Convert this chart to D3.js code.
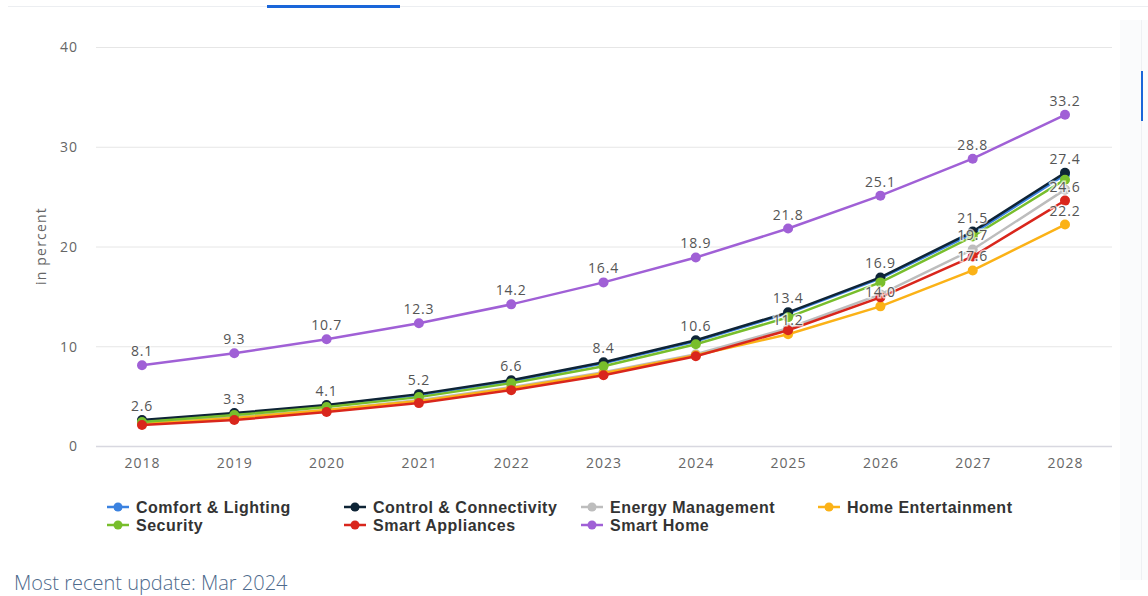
<!DOCTYPE html>
<html>
<head>
<meta charset="utf-8">
<script src="https://cdn.jsdelivr.net/npm/d3@7"></script>
<style>
  body { margin: 0; background: #fff; overflow: hidden; }
  svg { display: block; }
</style>
</head>
<body>
<svg id="chart" width="1148" height="596"></svg>
<script>
// chart values
var years = [2018, 2019, 2020, 2021, 2022, 2023, 2024, 2025, 2026, 2027, 2028];
var seriesNames = ["Comfort & Lighting", "Control & Connectivity", "Energy Management",
  "Home Entertainment", "Security", "Smart Appliances", "Smart Home"];
var seriesColors = ["#3b82e0", "#0e2436", "#bdbdbd", "#fbb217", "#78be2c", "#d9261c", "#a060d6"];

var comfortLighting = [2.5, 3.2, 4.0, 5.1, 6.5, 8.3, 10.5, 13.3, 16.8, 21.3, 27.2];
var controlConnectivity = [2.6, 3.3, 4.1, 5.2, 6.6, 8.4, 10.6, 13.4, 16.9, 21.5, 27.4];
var energyManagement = [2.3, 2.9, 3.6, 4.6, 5.9, 7.4, 9.2, 11.8, 15.2, 19.7, 25.7];
var homeEntertainment = [2.2, 2.8, 3.6, 4.5, 5.8, 7.3, 9.1, 11.2, 14.0, 17.6, 22.2];
var security = [2.4, 3.1, 3.9, 4.9, 6.3, 8.0, 10.2, 12.9, 16.4, 21.0, 26.7];
var smartAppliances = [2.1, 2.6, 3.4, 4.3, 5.6, 7.1, 9.0, 11.6, 14.9, 19.0, 24.6];
var smartHome = [8.1, 9.3, 10.7, 12.3, 14.2, 16.4, 18.9, 21.8, 25.1, 28.8, 33.2];

var yTicks = [0, 10, 20, 30, 40];

// which data labels are visible (the rest are hidden by overlap in the original)
var labelYears = [
  [],
  years,
  [2027],
  [2025, 2026, 2027, 2028],
  [],
  [2028],
  years
];

var allValues = [comfortLighting, controlConnectivity, energyManagement,
  homeEntertainment, security, smartAppliances, smartHome];

var series = seriesNames.map(function(name, i) {
  return {
    name: name,
    color: seriesColors[i],
    points: years.map(function(yr, j) { return {year: yr, value: allValues[i][j]}; }),
    labels: labelYears[i]
  };
});

var svg = d3.select("#chart");
var font = "'Open Sans', 'DejaVu Sans', sans-serif";

// page chrome: top rule with the active tab underline, side strip
svg.append("rect").attr("x", 8).attr("y", 6).attr("width", 1140).attr("height", 1).attr("fill", "#eceef1");
svg.append("rect").attr("x", 267).attr("y", 5).attr("width", 133).attr("height", 3).attr("fill", "#1a66d9");
svg.append("rect").attr("x", 1120).attr("y", 20).attr("width", 28).attr("height", 560).attr("fill", "#fafbfc");
svg.append("rect").attr("x", 1141).attr("y", 20).attr("width", 1).attr("height", 560).attr("fill", "#eef0f3");
svg.append("rect").attr("x", 1141).attr("y", 71).attr("width", 2).attr("height", 50).attr("fill", "#1a66d9");

var x = d3.scalePoint()
  .domain(years)
  .range([142, 1065]);

var y = d3.scaleLinear()
  .domain([0, 40])
  .range([446, 47]);

// grid
var grid = svg.append("g")
  .attr("transform", "translate(96,0)")
  .call(d3.axisLeft(y).tickValues(yTicks).tickSize(-1016).tickFormat(""));
grid.select(".domain").remove();
grid.selectAll("line").attr("stroke", "#e6e6e6");
grid.selectAll("line").filter(function(d) { return d === 0; }).attr("stroke", "#d8d8e0").attr("stroke-width", 1.5);

// y axis labels
var yAxis = svg.append("g")
  .attr("transform", "translate(78,0)")
  .call(d3.axisLeft(y).tickValues(yTicks).tickSize(0).tickPadding(0));
yAxis.select(".domain").remove();
yAxis.selectAll("text")
  .attr("font-family", font).attr("font-size", 14).attr("letter-spacing", "1px")
  .attr("fill", "#666").attr("dy", "0.35em");

// x axis labels
var xAxis = svg.append("g")
  .attr("transform", "translate(0,458)")
  .call(d3.axisBottom(x).tickSize(0).tickPadding(0));
xAxis.select(".domain").remove();
xAxis.selectAll("text")
  .attr("font-family", font).attr("font-size", 14).attr("letter-spacing", "1px")
  .attr("fill", "#666").attr("dy", "0.71em");

svg.append("text")
  .attr("transform", "translate(46,246) rotate(-90)")
  .attr("text-anchor", "middle")
  .attr("font-family", font).attr("font-size", 14).attr("letter-spacing", "1.2px")
  .attr("fill", "#666")
  .text("in percent");

var line = d3.line()
  .x(function(d) { return x(d.year); })
  .y(function(d) { return y(d.value); });

var plot = svg.append("g");
series.forEach(function(s) {
  var g = plot.append("g");
  g.append("path")
    .datum(s.points)
    .attr("d", line)
    .attr("fill", "none")
    .attr("stroke", s.color)
    .attr("stroke-width", 2.5);
  g.selectAll("circle")
    .data(s.points)
    .join("circle")
    .attr("cx", function(d) { return x(d.year); })
    .attr("cy", function(d) { return y(d.value); })
    .attr("r", 5)
    .attr("fill", s.color);
});

// data labels on top
var labels = svg.append("g");
series.forEach(function(s) {
  var pts = s.points.filter(function(d) { return s.labels.indexOf(d.year) >= 0; });
  labels.selectAll(null)
    .data(pts)
    .join("text")
    .attr("x", function(d) { return x(d.year); })
    .attr("y", function(d) { return y(d.value) - 9; })
    .attr("text-anchor", "middle")
    .attr("font-family", font).attr("font-size", 14).attr("letter-spacing", "0.8px")
    .attr("fill", "#555")
    .attr("stroke", "#fff").attr("stroke-width", 3).attr("stroke-opacity", 0.7)
    .attr("paint-order", "stroke")
    .text(function(d) { return d.value.toFixed(1); });
});

// legend, 4 columns
var legend = svg.append("g");
seriesNames.forEach(function(name, i) {
  var col = i % 4, row = Math.floor(i / 4);
  var lx = 107 + col * 237, ly = 507 + row * 18;
  var item = legend.append("g").attr("transform", "translate(" + lx + "," + ly + ")");
  item.append("line").attr("x1", 0).attr("x2", 22).attr("y1", 0).attr("y2", 0)
    .attr("stroke", seriesColors[i]).attr("stroke-width", 2.5);
  item.append("circle").attr("cx", 11).attr("cy", 0).attr("r", 4.5).attr("fill", seriesColors[i]);
  item.append("text")
    .attr("x", 29).attr("y", 0).attr("dy", "0.35em")
    .attr("font-family", "'Liberation Sans', Arial, sans-serif")
    .attr("font-size", 16).attr("font-weight", "bold").attr("letter-spacing", "0.5px")
    .attr("fill", "#333")
    .text(name);
});

svg.append("text")
  .attr("x", 14).attr("y", 590)
  .attr("font-family", font).attr("font-size", 20).attr("font-weight", 300)
  .attr("fill", "#4e6a8c")
  .text("Most recent update: Mar 2024");
</script>
</body>
</html>
